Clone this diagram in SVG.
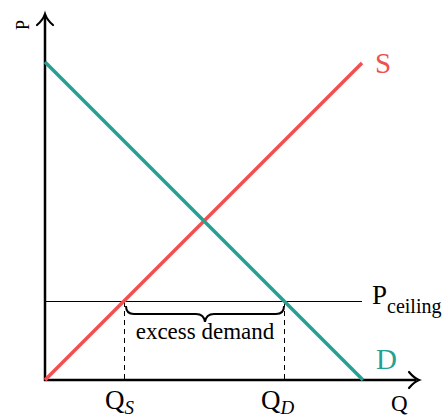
<svg xmlns="http://www.w3.org/2000/svg" width="448" height="419" viewBox="0 0 448 419">
<style>
.ax{stroke:#000;stroke-width:2.5;fill:none}
.ah{stroke:#000;stroke-width:2.2;fill:none;stroke-linecap:round}
.t{font-family:"Liberation Serif",serif;fill:#000}
.dash{stroke:#000;stroke-width:1;stroke-dasharray:5,4;fill:none}
</style>
<rect width="448" height="419" fill="#fff"/>
<g id="connectors">
<line class="ax" x1="45" y1="381" x2="45" y2="16"/>
<path class="ah" d="M37,25 Q43,20 45,14 Q47,20 53,25"/>
<line class="ax" x1="44" y1="380" x2="416" y2="380"/>
<path class="ah" d="M409,372 Q414,378 419,380 Q414,382 409,388"/>
<line x1="45" y1="301.5" x2="362" y2="301.5" stroke="#000" stroke-width="1.1"/>
<line class="dash" x1="124.5" y1="302" x2="124.5" y2="380"/>
<line class="dash" x1="284.5" y1="302" x2="284.5" y2="380"/>
<path d="M126,306 Q126,314 134,314 L196,314 Q204,314 205,322 Q206,314 214,314 L276,314 Q284,314 284,306" stroke="#000" stroke-width="2" fill="none"/>
</g>
<g id="supply">
<line x1="45" y1="380" x2="362" y2="63" stroke="#ef5050" stroke-width="3.5"/>
<text class="t" x="375" y="73" font-size="29" style="fill:#ef5050">S</text>
</g>
<g id="demand">
<line x1="45" y1="62" x2="363" y2="380" stroke="#26a092" stroke-width="3.5"/>
<text class="t" x="376" y="369" font-size="29" style="fill:#26a092">D</text>
</g>
<g id="labels">
<text class="t" transform="translate(29,30) rotate(-90)" font-size="18">P</text>
<text class="t" x="391" y="411" font-size="23">Q</text>
<text class="t" x="372" y="304" font-size="27">P<tspan font-size="20" dy="9">ceiling</tspan></text>
<text class="t" x="105" y="409" font-size="27">Q<tspan font-size="19" font-style="italic" dy="5">S</tspan></text>
<text class="t" x="261" y="409" font-size="27">Q<tspan font-size="19" font-style="italic" dy="5">D</tspan></text>
<text class="t" x="205" y="339" font-size="23" text-anchor="middle">excess demand</text>
</g>
</svg>
